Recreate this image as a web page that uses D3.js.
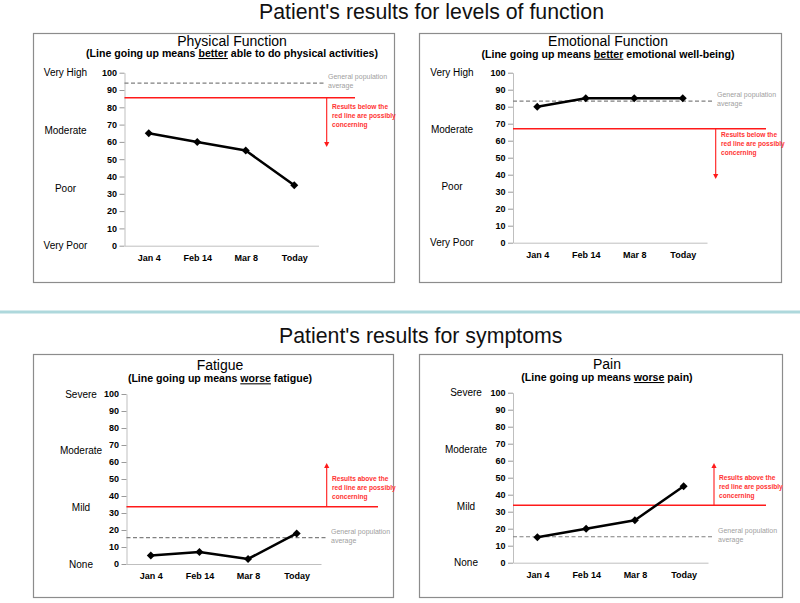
<!DOCTYPE html>
<html>
<head>
<meta charset="utf-8">
<script src="https://cdn.jsdelivr.net/npm/d3@7"></script>
<style>
  html, body { margin: 0; padding: 0; background: #fff; }
  svg { display: block; font-family: "Liberation Sans", Arial, sans-serif; }
</style>
</head>
<body>
<svg id="chart" width="800" height="603"></svg>
<script>
// ---------------- data ----------------
const categories = ["Jan 4", "Feb 14", "Mar 8", "Today"];
const physicalScores = [65, 60, 55, 35];
const emotionalScores = [80, 85, 85, 85];
const fatigueScores = [5, 7, 3, 18];
const painScores = [15, 20, 25, 45];
const yTickValues = [0, 10, 20, 30, 40, 50, 60, 70, 80, 90, 100];
const functionLevelLabels = ["Very High", "Moderate", "Poor", "Very Poor"];
const symptomLevelLabels = ["Severe", "Moderate", "Mild", "None"];
const levelValues = [100, 66.7, 33.3, 0];
const concernThresholds = [85.5, 67, 33.7, 33.8];
const populationAverages = [94, 83.3, 15.5, 15.3];
const arrowEnds = [57, 37.5, 59.4, 58.6];
const panelTitles = ["Physical Function", "Emotional Function", "Fatigue", "Pain"];
const subtitleParts = [
  ["(Line going up means ", "better", " able to do physical activities)"],
  ["(Line going up means ", "better", " emotional well-being)"],
  ["(Line going up means ", "worse", " fatigue)"],
  ["(Line going up means ", "worse", " pain)"]
];
const sectionTitles = ["Patient's results for levels of function", "Patient's results for symptoms"];
const belowNote = ["Results below the", "red line are possibly", "concerning"];
const aboveNote = ["Results above the", "red line are possibly", "concerning"];
const populationNote = ["General population", "average"];

// ---------------- layout ----------------
const svg = d3.select("#chart");

svg.append("text").attr("x", 259).attr("y", 18.5).attr("font-size", 21.3).attr("fill", "#111")
  .text(sectionTitles[0]);
svg.append("line").attr("x1", 0).attr("x2", 800).attr("y1", 312).attr("y2", 312)
  .attr("stroke", "#aed8dc").attr("stroke-width", 3);
svg.append("text").attr("x", 279).attr("y", 343).attr("font-size", 21.3).attr("fill", "#111")
  .text(sectionTitles[1]);

const panels = [
  { box: [33, 33, 394, 282], x0: 124.5, x1: 318.5, yTop: 72.7, yBot: 245.7, titleX: 232, titleY: 45.5, subY: 57, subW: 293,
    levelX: 65.5, redEnd: 355, arrowX: 326.7, grayX: 328, redX: 332, noteOffset: 8.3, down: true,
    scores: physicalScores, levels: functionLevelLabels },
  { box: [419, 33, 781, 282], x0: 513, x1: 707, yTop: 72.7, yBot: 242.7, titleX: 608, titleY: 46, subY: 57.7, subW: 253,
    levelX: 452, redEnd: 766, arrowX: 715.7, grayX: 717, redX: 721, noteOffset: 5.3, down: true,
    scores: emotionalScores, levels: functionLevelLabels },
  { box: [33, 354, 393, 597], x0: 126.5, x1: 321, yTop: 394, yBot: 564, titleX: 220, titleY: 370, subY: 382.3, subW: 185,
    levelX: 81, redEnd: 378, arrowX: 326.7, grayX: 331, redX: 332, noteOffset: -28.7, down: false,
    scores: fatigueScores, levels: symptomLevelLabels },
  { box: [419, 354, 782, 597], x0: 513, x1: 708, yTop: 392.7, yBot: 562.7, titleX: 607, titleY: 369, subY: 381, subW: 172,
    levelX: 466, redEnd: 766, arrowX: 714, grayX: 718, redX: 719, noteOffset: -27.6, down: false,
    scores: painScores, levels: symptomLevelLabels }
];

panels.forEach((p, i) => {
  const g = svg.append("g");
  const [bx0, by0, bx1, by1] = p.box;
  g.append("rect").attr("x", bx0 + 0.5).attr("y", by0 + 0.5).attr("width", bx1 - bx0).attr("height", by1 - by0)
    .attr("fill", "#fff").attr("stroke", "#8c8c8c").attr("stroke-width", 1.2);

  // titles
  g.append("text").attr("x", p.titleX).attr("y", p.titleY).attr("text-anchor", "middle")
    .attr("font-size", 14).attr("fill", "#000").text(panelTitles[i]);
  const sub = g.append("text").attr("x", p.titleX).attr("y", p.subY).attr("text-anchor", "middle")
    .attr("font-size", 10.6).attr("font-weight", "bold").attr("fill", "#000");
  subtitleParts[i].forEach((t, k) => {
    const ts = sub.append("tspan").text(t);
    if (k === 1) ts.attr("text-decoration", "underline");
  });
  const w = sub.node().getComputedTextLength();
  if (Math.abs(w - p.subW) > 3) sub.attr("textLength", p.subW).attr("lengthAdjust", "spacingAndGlyphs");

  const x = d3.scalePoint().domain(categories).range([p.x0, p.x1]).padding(0.5);
  const y = d3.scaleLinear().domain([0, 100]).range([p.yBot, p.yTop]);

  // y axis
  const ya = g.append("g").attr("transform", `translate(${p.x0},0)`)
    .call(d3.axisLeft(y).tickValues(yTickValues).tickSize(5).tickSizeOuter(0).tickPadding(2.5));
  ya.select(".domain").attr("stroke", "#bfbfbf");
  ya.selectAll(".tick line").attr("stroke", "#9a9a9a");
  ya.selectAll(".tick text").attr("font-size", 9).attr("font-weight", "bold").attr("fill", "#000")
    .attr("font-family", "Liberation Sans, Arial, sans-serif");

  // x axis
  const xa = g.append("g").attr("transform", `translate(0,${p.yBot})`)
    .call(d3.axisBottom(x).tickSize(0).tickSizeOuter(0).tickPadding(9));
  xa.select(".domain").attr("stroke", "#bfbfbf");
  xa.selectAll(".tick text").attr("font-size", 9).attr("font-weight", "bold").attr("fill", "#000")
    .attr("font-family", "Liberation Sans, Arial, sans-serif");

  // level labels
  g.selectAll(".lvl").data(p.levels).join("text")
    .attr("x", p.levelX).attr("y", (d, k) => y(levelValues[k]))
    .attr("text-anchor", "middle").attr("dominant-baseline", "central")
    .attr("font-size", 10).attr("fill", "#000").text(d => d);

  // population average (dashed)
  const popY = y(populationAverages[i]);
  g.append("line").attr("x1", p.x0).attr("x2", p.x1 + 6).attr("y1", popY).attr("y2", popY)
    .attr("stroke", "#808080").attr("stroke-width", 1.1).attr("stroke-dasharray", "4,2.5");
  g.selectAll(".pop").data(populationNote).join("text")
    .attr("x", p.grayX).attr("y", (d, k) => popY - 6.5 + k * 9)
    .attr("dominant-baseline", "central").attr("font-size", 7).attr("fill", "#a0a0a0").text(d => d);

  // concern threshold (red)
  const redY = y(concernThresholds[i]);
  g.append("line").attr("x1", p.x0).attr("x2", p.redEnd).attr("y1", redY).attr("y2", redY)
    .attr("stroke", "#ff1a1a").attr("stroke-width", 1.6);
  const tipY = y(arrowEnds[i]);
  const dir = p.down ? 1 : -1;
  g.append("line").attr("x1", p.arrowX).attr("x2", p.arrowX).attr("y1", redY).attr("y2", tipY - dir * 4)
    .attr("stroke", "#ff1a1a").attr("stroke-width", 1.1);
  g.append("path")
    .attr("d", `M${p.arrowX - 2.6},${tipY - dir * 5} L${p.arrowX + 2.6},${tipY - dir * 5} L${p.arrowX},${tipY} Z`)
    .attr("fill", "#ff1a1a");
  g.selectAll(".note").data(p.down ? belowNote : aboveNote).join("text")
    .attr("x", p.redX).attr("y", (d, k) => redY + p.noteOffset + k * 9)
    .attr("dominant-baseline", "central").attr("font-size", 6.6).attr("font-weight", "bold")
    .attr("fill", "#ff3333").text(d => d);

  // data line + markers
  const line = d3.line().x((d, k) => x(categories[k])).y(d => y(d));
  g.append("path").datum(p.scores).attr("d", line)
    .attr("fill", "none").attr("stroke", "#000").attr("stroke-width", 2.5).attr("stroke-linejoin", "round");
  g.selectAll(".pt").data(p.scores).join("path")
    .attr("d", d3.symbol(d3.symbolSquare, 32))
    .attr("transform", (d, k) => `translate(${x(categories[k])},${y(d)}) rotate(45)`)
    .attr("fill", "#000");
});
</script>
</body>
</html>
